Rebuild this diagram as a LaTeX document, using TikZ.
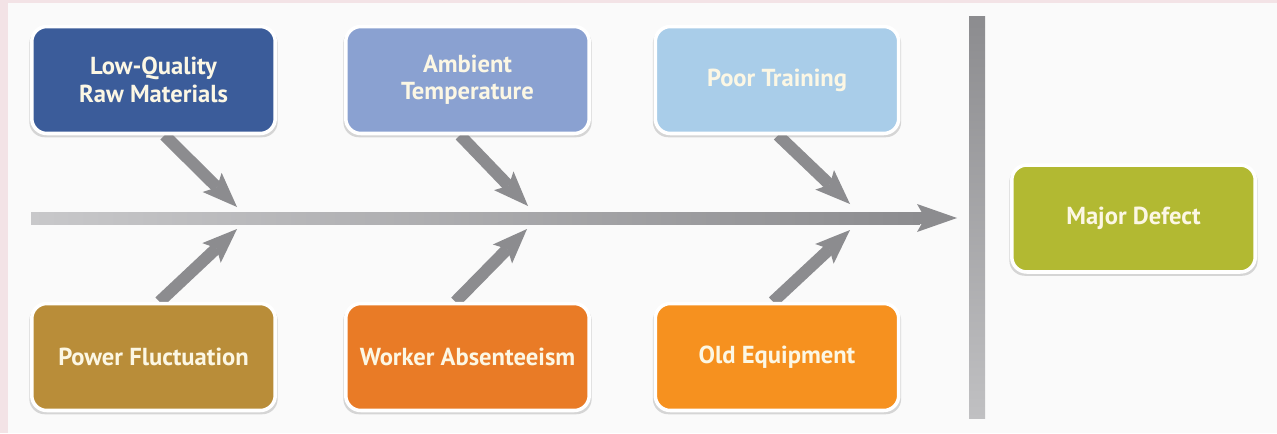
\documentclass[tikz,border=0pt]{standalone}
\usepackage{fontspec}
\setmainfont{PT Sans}
\usetikzlibrary{arrows.meta,positioning,shadows}
\definecolor{rawblue}{HTML}{3B5C9A}
\definecolor{ambblue}{HTML}{8AA1D1}
\definecolor{trainblue}{HTML}{A9CDE9}
\definecolor{powbrown}{HTML}{B98D39}
\definecolor{absorange}{HTML}{E97B26}
\definecolor{equiporange}{HTML}{F6911F}
\definecolor{defgreen}{HTML}{B2B932}
\definecolor{labelcream}{HTML}{FCF7E4}
\definecolor{bonegray}{HTML}{8C8C8F}
\definecolor{bonelight}{HTML}{C8C8CA}
\definecolor{barlight}{HTML}{C0C0C2}
\definecolor{paper}{HTML}{FAFAFA}
\definecolor{pinkedge}{HTML}{F3E3E6}
\pgfdeclarelayer{bg}
\pgfsetlayers{bg,main}
\tikzset{
  cause/.style  = {draw=white, line width=2pt, rounded corners=0.3cm,
                   minimum width=4.87cm, minimum height=2.14cm, align=center,
                   text=labelcream, font=\bfseries\fontsize{14}{15.5}\selectfont,
                   drop shadow={opacity=0.3, shadow xshift=0pt,
                                shadow yshift=-1.5pt, shadow scale=1.02}},
  bone/.style   = {-{Stealth[length=0.7cm,width=0.54cm,inset=0.14cm,line width=0pt]},
                   line width=0.24cm, draw=bonegray},
  spine/.style  = {bone, -{Stealth[length=0.8cm,width=0.56cm,inset=0.16cm,line width=0pt]}},
}
\begin{document}
\begin{tikzpicture}[x=0.02cm,y=-0.02cm]
\node[cause,fill=rawblue]     (rawmat)   at (153.5,80)  {Low-Quality\\Raw Materials};
\node[cause,fill=ambblue]     (ambient)  at (467.5,80)  {Ambient\\Temperature};
\node[cause,fill=trainblue]   (training) at (777,80)    {Poor Training};
\node[cause,fill=powbrown]    (power)    at (153.5,357) {Power Fluctuation};
\node[cause,fill=absorange]   (absent)   at (467.5,357) {Worker Absenteeism};
\node[cause,fill=equiporange] (equip)    at (777,357)   {Old Equipment};
\node[cause,fill=defgreen]    (defect)   at (1133.5,218.5) {Major Defect};
\coordinate (tail) at (31,218);
\coordinate (head) at (957,218);
\coordinate (t1) at (237,207); \coordinate (b1) at (237,229);
\coordinate (t2) at (528,206); \coordinate (b2) at (527,229);
\coordinate (t3) at (850,204); \coordinate (b3) at (850,230);
\begin{pgfonlayer}{bg}
\fill[pinkedge] (0,0) rectangle (1277,433);
\fill[paper] (8,3) rectangle (1277,433);
\draw[spine] (tail) -- (head);
\shade[left color=bonelight,right color=bonegray] (31,212) rectangle (920,224);
\shade[top color=bonegray,bottom color=barlight] (969,16) rectangle (985,418);
\draw[bone] ([xshift=0.22cm]rawmat.south) -- (t1);
\draw[bone] ([xshift=0.12cm]power.north) -- (b1);
\draw[bone] ([xshift=-0.15cm]ambient.south) -- (t2);
\draw[bone] ([xshift=-0.24cm]absent.north) -- (b2);
\draw[bone] ([xshift=0.02cm]training.south) -- (t3);
\draw[bone] ([xshift=-0.08cm]equip.north) -- (b3);
\end{pgfonlayer}
\end{tikzpicture}
\end{document}
